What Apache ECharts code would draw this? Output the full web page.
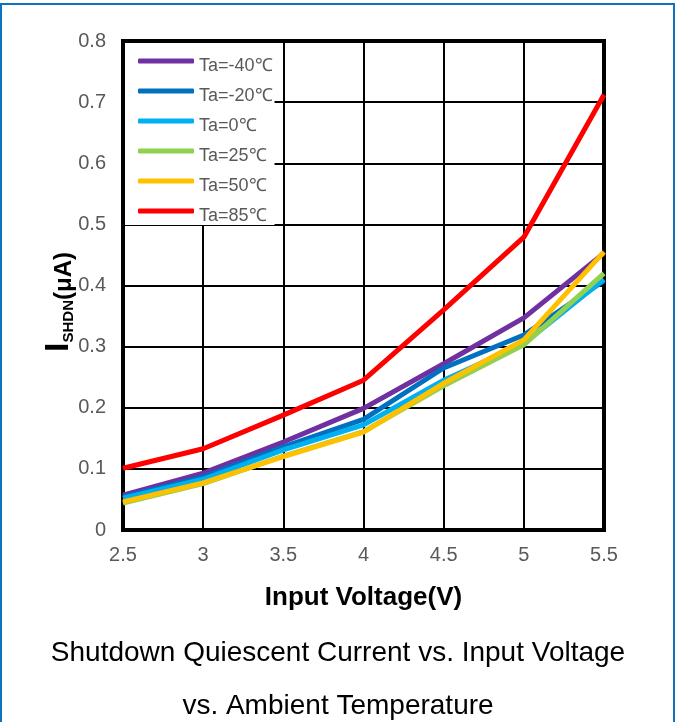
<!DOCTYPE html>
<html><head><meta charset="utf-8">
<script src="https://cdn.jsdelivr.net/npm/echarts@6/dist/echarts.min.js"></script>
<style>
html,body{margin:0;padding:0;background:#fff;}
#frame{position:absolute;left:0;top:3px;width:675px;height:740px;border:2px solid #0C74BF;box-sizing:border-box;}
#c{position:absolute;left:0;top:0;width:676px;height:722px;}
</style></head>
<body><div id="frame"></div><div id="c"></div>
<script>
const voltages = [2.5, 3, 3.5, 4, 4.5, 5, 5.5];
const seriesNames = ['Ta=-40℃','Ta=-20℃','Ta=0℃','Ta=25℃','Ta=50℃','Ta=85℃'];
const ta_m40 = [0.057, 0.093, 0.144, 0.199, 0.272, 0.347, 0.453];
const ta_m20 = [0.054, 0.087, 0.136, 0.181, 0.265, 0.319, 0.408];
const ta_0   = [0.052, 0.083, 0.131, 0.172, 0.245, 0.305, 0.410];
const ta_25  = [0.044, 0.076, 0.121, 0.161, 0.236, 0.303, 0.420];
const ta_50  = [0.046, 0.077, 0.120, 0.160, 0.240, 0.311, 0.455];
const ta_85  = [0.101, 0.133, 0.188, 0.245, 0.360, 0.479, 0.712];
const colors = ['#7030A0','#0070C0','#00B0F0','#92D050','#FFC000','#FF0000'];
const allData = [ta_m40, ta_m20, ta_0, ta_25, ta_50, ta_85];
const FF = 'Liberation Sans, Arial, sans-serif';

const chart = echarts.init(document.getElementById('c'));
chart.setOption({
  animation:false,
  backgroundColor:'transparent',
  grid:{left:123,top:41,right:72,bottom:192,show:true,borderColor:'#000',borderWidth:4},
  legend:{
    orient:'vertical', left:125, top:43, z:10,
    data:seriesNames, icon:'roundRect', itemWidth:56, itemHeight:5, itemGap:2, itemTextGap:4,
    backgroundColor:'#fff', padding:[4,2,0,13],
    formatter:'{t|{name}}',
    textStyle:{color:'#595959',fontFamily:FF,fontSize:18,
      rich:{t:{color:'#595959',fontFamily:FF,fontSize:18,lineHeight:18,padding:[10,0,0,0]}}}
  },
  xAxis:{
    type:'value', min:2.5, max:5.5, interval:0.5,
    axisLine:{show:true,lineStyle:{color:'#000',width:4}},
    axisTick:{show:false},
    splitLine:{show:true,lineStyle:{color:'#000',width:2}},
    axisLabel:{color:'#595959',fontFamily:FF,fontSize:20,margin:15},
    name:'Input Voltage(V)', nameLocation:'middle', nameGap:55,
    nameTextStyle:{color:'#000',fontFamily:FF,fontSize:26,fontWeight:'bold'}
  },
  yAxis:{
    type:'value', min:0, max:0.8, interval:0.1,
    axisLine:{show:true,lineStyle:{color:'#000',width:4}},
    axisTick:{show:false},
    splitLine:{show:true,lineStyle:{color:'#000',width:2}},
    axisLabel:{color:'#595959',fontFamily:FF,fontSize:20,margin:17}
  },
  graphic:[
    {type:'text',x:76,y:302,rotation:Math.PI/2,z:20,
     style:{text:'{b|I}{s|SHDN}{m|(μA)}',align:'center',verticalAlign:'bottom',fill:'#000',
       rich:{b:{fontSize:34,fontWeight:'bold',fill:'#000',fontFamily:FF,verticalAlign:'bottom'},
             s:{fontSize:15,fontWeight:'bold',fill:'#000',fontFamily:FF,verticalAlign:'bottom'},
             m:{fontSize:24,fontWeight:'bold',fill:'#000',fontFamily:FF,verticalAlign:'bottom'}}}},
    {type:'text',left:'center',top:639,style:{text:'Shutdown Quiescent Current vs. Input Voltage',fontFamily:FF,fontSize:28,fill:'#000'}},
    {type:'text',left:'center',top:692,style:{text:'vs. Ambient Temperature',fontFamily:FF,fontSize:28,fill:'#000'}}
  ],
  series: seriesNames.map((n,i)=>({
    name:n, type:'line', showSymbol:false, symbol:'none',
    lineStyle:{color:colors[i],width:5}, itemStyle:{color:colors[i]},
    data: voltages.map((v,j)=>[v, allData[i][j]])
  }))
});
</script></body></html>
